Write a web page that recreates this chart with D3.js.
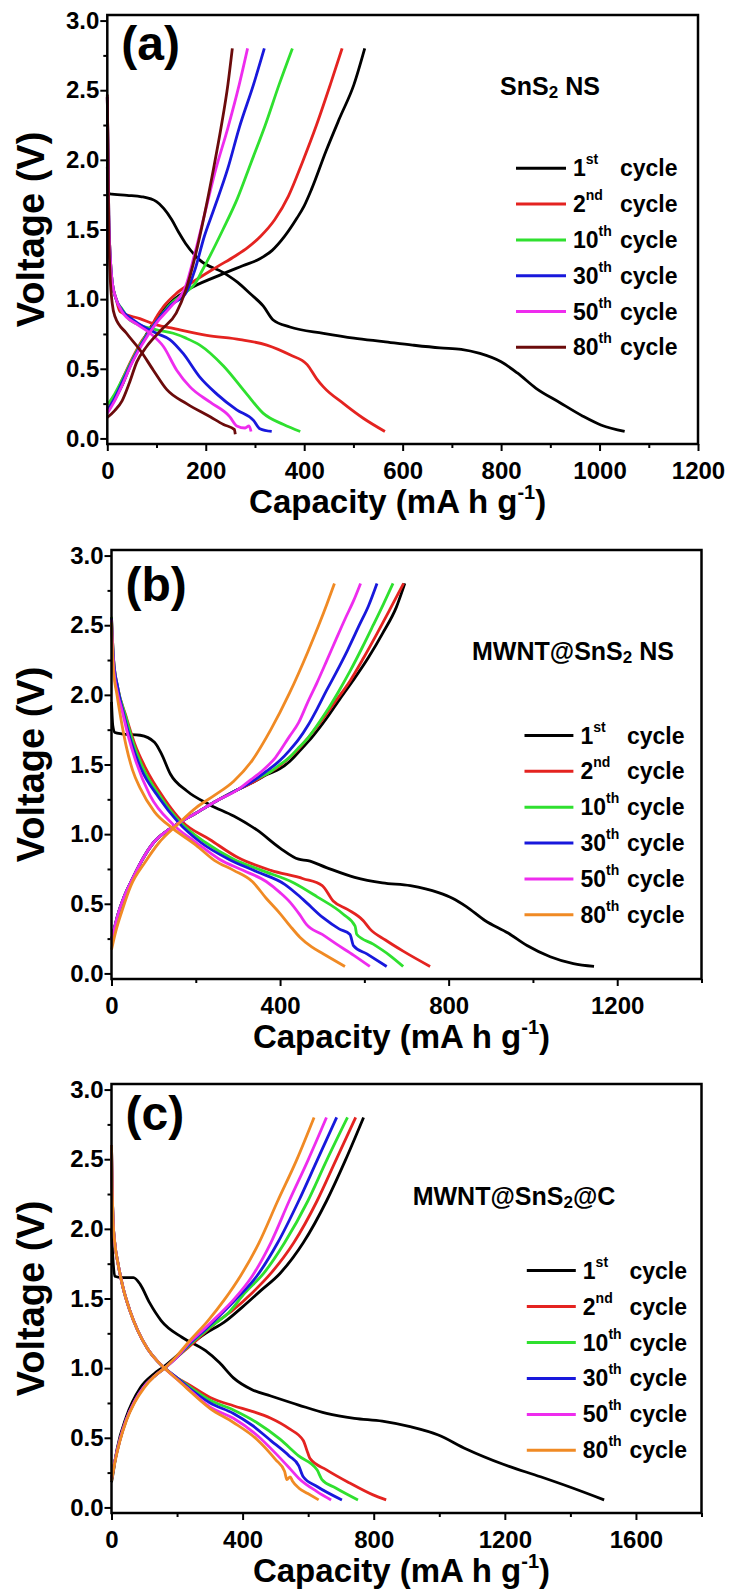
<!DOCTYPE html>
<html>
<head>
<meta charset="utf-8">
<script src="https://cdn.jsdelivr.net/npm/d3@7"></script>
<style>
  body { margin: 0; background: #fff; }
  text { font-family: "Liberation Sans", Arial, sans-serif; font-weight: bold; fill: #000; }
</style>
</head>
<body>
<div id="chart"></div>
<script>
// Legend entries (number + superscript)
const cycleLabels = [["1", "st"], ["2", "nd"], ["10", "th"], ["30", "th"], ["50", "th"], ["80", "th"]];

// ---- Panel (a) SnS2 NS : [capacity, voltage] ----
const aDischarge = [
  [[0,1.95],[2,1.78],[5,1.755],[40,1.745],[70,1.735],[100,1.70],[115,1.65],[131,1.57],[145,1.48],[159,1.40],[188,1.28],[236,1.19],[265,1.12],[290,1.04],[317,0.95],[337,0.85],[371,0.80],[439,0.755],[501,0.72],[561,0.695],[620,0.67],[676,0.65],[719,0.64],[757,0.61],[800,0.55],[833,0.47],[871,0.36],[918,0.26],[966,0.16],[1004,0.095],[1051,0.05]],
  [[0,2.45],[3,1.6],[6,1.3],[10,1.12],[18,1.0],[26,0.91],[66,0.86],[100,0.815],[134,0.79],[202,0.74],[270,0.71],[324,0.67],[371,0.60],[406,0.53],[425,0.43],[439,0.37],[480,0.25],[520,0.145],[564,0.05]],
  [[0,2.45],[3,1.6],[6,1.3],[10,1.12],[18,1.0],[30,0.93],[46,0.85],[100,0.78],[134,0.755],[160,0.72],[188,0.67],[236,0.52],[283,0.32],[317,0.18],[358,0.10],[392,0.05]],
  [[0,2.45],[3,1.6],[6,1.3],[10,1.12],[18,1.0],[30,0.92],[53,0.85],[100,0.755],[127,0.71],[154,0.61],[188,0.44],[222,0.32],[263,0.205],[297,0.13],[310,0.07],[334,0.05]],
  [[0,2.45],[3,1.6],[6,1.3],[10,1.12],[18,1.0],[30,0.91],[60,0.82],[87,0.755],[114,0.66],[141,0.49],[168,0.37],[209,0.26],[249,0.155],[263,0.09],[280,0.075],[288,0.09],[292,0.05]],
  [[0,2.47],[3,1.5],[6,1.15],[10,0.97],[15.6,0.875],[39,0.755],[66.5,0.635],[93.5,0.49],[121,0.35],[161,0.25],[209,0.155],[236,0.10],[258,0.065],[260,0.03]]
];
const aCharge = [
  [[0,0.2],[15,0.28],[30,0.38],[50,0.55],[75,0.72],[100,0.86],[130,0.98],[165,1.07],[220,1.16],[275,1.24],[310,1.29],[335,1.35],[360,1.45],[385,1.58],[400,1.67],[415,1.79],[444,2.06],[472,2.30],[501,2.54],[523,2.80]],
  [[0,0.2],[15,0.3],[30,0.42],[50,0.57],[70,0.7],[90,0.8],[95,0.84],[115,0.95],[140,1.04],[168,1.11],[222,1.23],[260,1.31],[285,1.37],[311,1.45],[340,1.57],[368,1.74],[396,1.98],[425,2.25],[453,2.54],[477,2.80]],
  [[0,0.24],[15,0.32],[30,0.42],[50,0.56],[70,0.69],[100,0.84],[130,0.97],[160,1.05],[178,1.11],[192,1.2],[207,1.30],[235,1.50],[264,1.72],[292,1.98],[321,2.25],[349,2.54],[376,2.80]],
  [[0,0.2],[15,0.29],[30,0.4],[50,0.55],[70,0.68],[100,0.84],[130,0.96],[159,1.04],[178,1.21],[197,1.45],[216,1.64],[245,1.94],[268,2.23],[297,2.54],[319,2.80]],
  [[0,0.18],[15,0.27],[30,0.38],[50,0.54],[70,0.67],[100,0.83],[130,0.95],[159,1.09],[178,1.33],[197,1.60],[221,1.94],[245,2.23],[268,2.54],[285,2.80]],
  [[0,0.15],[15,0.2],[30,0.27],[45,0.4],[60,0.55],[80,0.66],[110,0.78],[140,0.9],[159,1.06],[178,1.30],[197,1.60],[216,1.94],[231,2.23],[245,2.54],[254,2.80]]
];

// ---- Panel (b) MWNT@SnS2 NS ----
const bDischarge = [
  [[0,1.95],[3,1.78],[8,1.73],[24,1.72],[68,1.71],[102,1.66],[118,1.58],[140,1.43],[179,1.31],[234,1.21],[290,1.13],[345,1.03],[400,0.90],[444,0.82],[466,0.81],[510,0.76],[577,0.69],[643,0.65],[709,0.63],[776,0.58],[809,0.54],[842,0.48],[886,0.38],[941,0.29],[986,0.20],[1041,0.12],[1096,0.07],[1145,0.05]],
  [[0,2.56],[5,2.25],[15,2.05],[34,1.85],[55,1.65],[80,1.48],[124,1.26],[168,1.09],[234,0.96],[301,0.83],[378,0.74],[455,0.68],[500,0.63],[526,0.52],[560,0.46],[597,0.38],[613,0.32],[650,0.24],[692,0.16],[756,0.05]],
  [[0,2.56],[5,2.25],[15,2.05],[33,1.85],[52,1.65],[74,1.48],[118,1.26],[162,1.09],[223,0.94],[290,0.82],[356,0.74],[433,0.65],[488,0.55],[550,0.425],[578,0.34],[582,0.28],[621,0.21],[660,0.13],[692,0.05]],
  [[0,2.55],[5,2.25],[15,2.05],[30,1.85],[48,1.65],[68.5,1.48],[113,1.26],[157,1.09],[212,0.94],[278,0.82],[345,0.73],[411,0.64],[455,0.53],[502,0.40],[540,0.32],[566,0.28],[574,0.20],[606,0.14],[653,0.05]],
  [[0,2.54],[5,2.2],[15,2.0],[24,1.9],[40,1.7],[57,1.53],[91,1.28],[146,1.07],[201,0.94],[256,0.82],[312,0.74],[367,0.66],[400,0.58],[424,0.51],[447,0.42],[463,0.35],[500,0.28],[534,0.21],[575,0.13],[613,0.05]],
  [[0,2.52],[4,2.2],[13,2.0],[24,1.8],[35,1.63],[50,1.46],[68,1.33],[102,1.16],[146,1.04],[201,0.92],[245,0.81],[290,0.74],[334,0.66],[367,0.54],[400,0.43],[424,0.34],[447,0.26],[475,0.19],[503,0.14],[554,0.05]]
];
const bCharge = [
  [[0,0.24],[5,0.3],[15,0.42],[30,0.55],[50,0.68],[70,0.80],[100,0.94],[130,1.02],[160,1.08],[200,1.15],[250,1.24],[300,1.32],[340,1.38],[370,1.43],[400,1.47],[422,1.52],[450,1.61],[477,1.70],[510,1.83],[544,1.98],[577,2.12],[610,2.27],[643,2.44],[676,2.63],[696,2.80]],
  [[0,0.24],[5,0.3],[15,0.42],[30,0.55],[50,0.68],[70,0.80],[100,0.94],[130,1.02],[160,1.08],[200,1.15],[250,1.24],[300,1.32],[340,1.38],[367,1.43],[390,1.47],[411,1.52],[440,1.60],[466,1.69],[500,1.82],[533,1.96],[566,2.10],[599,2.27],[630,2.44],[660,2.61],[693,2.80]],
  [[0,0.245],[5,0.3],[15,0.42],[30,0.55],[50,0.68],[70,0.80],[100,0.94],[130,1.02],[160,1.08],[200,1.15],[250,1.24],[300,1.32],[340,1.39],[378,1.45],[400,1.50],[422,1.55],[444,1.62],[466,1.69],[490,1.79],[510,1.88],[540,2.03],[566,2.17],[595,2.34],[621,2.50],[645,2.65],[668,2.80]],
  [[0,0.245],[5,0.3],[15,0.42],[30,0.55],[50,0.68],[70,0.80],[100,0.94],[130,1.02],[160,1.08],[200,1.15],[250,1.24],[300,1.32],[340,1.39],[367,1.45],[400,1.53],[422,1.60],[444,1.68],[466,1.78],[488,1.90],[510,2.03],[533,2.16],[560,2.32],[588,2.50],[610,2.64],[630,2.80]],
  [[0,0.24],[5,0.3],[15,0.42],[30,0.55],[50,0.68],[70,0.80],[100,0.94],[130,1.02],[160,1.08],[200,1.15],[250,1.24],[300,1.32],[330,1.39],[356,1.45],[389,1.55],[422,1.70],[444,1.80],[466,1.95],[488,2.09],[510,2.24],[533,2.40],[555,2.55],[575,2.68],[591,2.80]],
  [[0,0.17],[10,0.3],[25,0.45],[46,0.63],[80,0.80],[113,0.94],[157,1.07],[201,1.19],[245,1.28],[290,1.38],[334,1.53],[378,1.75],[422,2.01],[466,2.31],[511,2.65],[529,2.80]]
];

// ---- Panel (c) MWNT@SnS2@C ----
const cDischarge = [
  [[0,2.0],[4,1.8],[10,1.66],[31,1.65],[67,1.65],[88,1.60],[116,1.47],[152,1.34],[216,1.22],[287,1.125],[329,1.04],[372,0.93],[429,0.845],[486,0.80],[571,0.735],[656,0.675],[741,0.64],[826,0.62],[911,0.58],[997,0.52],[1082,0.42],[1195,0.31],[1309,0.22],[1394,0.15],[1503,0.054]],
  [[0,2.6],[2,2.3],[5,2.05],[10,1.9],[20,1.75],[35,1.58],[55,1.42],[80,1.27],[110,1.14],[140,1.05],[162,1.0],[200,0.93],[230,0.89],[301,0.79],[372,0.73],[429,0.69],[486,0.64],[542,0.565],[585,0.48],[599,0.39],[606,0.35],[656,0.27],[727,0.175],[798,0.09],[838,0.054]],
  [[0,2.6],[2,2.3],[5,2.05],[10,1.9],[20,1.75],[35,1.58],[55,1.42],[80,1.27],[110,1.14],[140,1.05],[162,1.0],[200,0.93],[230,0.88],[301,0.77],[372,0.70],[443,0.61],[514,0.49],[571,0.37],[627,0.27],[642,0.20],[684,0.14],[752,0.054]],
  [[0,2.6],[2,2.3],[5,2.05],[10,1.9],[20,1.75],[35,1.58],[55,1.42],[80,1.27],[110,1.14],[140,1.05],[162,1.0],[200,0.93],[230,0.87],[301,0.75],[372,0.675],[429,0.59],[486,0.48],[542,0.37],[571,0.30],[585,0.22],[627,0.15],[703,0.054]],
  [[0,2.6],[2,2.3],[5,2.05],[10,1.9],[20,1.75],[35,1.58],[55,1.42],[80,1.27],[110,1.14],[140,1.05],[162,1.0],[200,0.92],[230,0.86],[301,0.72],[372,0.64],[443,0.52],[500,0.39],[542,0.285],[571,0.21],[627,0.114],[670,0.054]],
  [[0,2.6],[2,2.3],[5,2.05],[10,1.9],[20,1.75],[35,1.58],[55,1.42],[80,1.27],[110,1.14],[140,1.05],[162,1.0],[200,0.92],[230,0.855],[301,0.71],[372,0.61],[443,0.49],[500,0.345],[528,0.26],[535,0.20],[545,0.22],[552,0.19],[571,0.14],[599,0.10],[632,0.054]]
];
const cCharge = [
  [[0,0.18],[3,0.22],[17,0.42],[45,0.65],[88,0.86],[130,0.96],[159,1.01],[230,1.15],[287,1.25],[344,1.33],[400,1.44],[457,1.56],[514,1.68],[585,1.90],[656,2.20],[713,2.49],[769,2.80]],
  [[0,0.2],[10,0.33],[25,0.48],[45,0.63],[70,0.76],[100,0.87],[130,0.94],[162,1.0],[200,1.08],[250,1.18],[315,1.32],[372,1.42],[429,1.54],[486,1.68],[556,1.90],[627,2.20],[684,2.49],[745,2.80]],
  [[0,0.2],[10,0.33],[25,0.48],[45,0.63],[70,0.76],[100,0.87],[130,0.94],[162,1.0],[200,1.08],[244,1.18],[301,1.295],[358,1.40],[407,1.54],[464,1.68],[528,1.90],[599,2.20],[656,2.49],[720,2.80]],
  [[0,0.2],[10,0.33],[25,0.48],[45,0.63],[70,0.76],[100,0.87],[130,0.94],[162,1.0],[200,1.08],[240,1.18],[287,1.28],[336,1.39],[386,1.51],[443,1.66],[507,1.90],[571,2.20],[627,2.49],[687,2.80]],
  [[0,0.2],[10,0.33],[25,0.48],[45,0.63],[70,0.76],[100,0.87],[130,0.94],[162,1.0],[200,1.08],[240,1.19],[273,1.26],[322,1.37],[372,1.49],[429,1.66],[486,1.90],[542,2.20],[599,2.49],[656,2.80]],
  [[0,0.19],[10,0.32],[25,0.47],[45,0.62],[70,0.75],[100,0.86],[130,0.94],[162,1.0],[200,1.09],[240,1.20],[294,1.34],[344,1.49],[393,1.66],[450,1.90],[507,2.20],[564,2.49],[618,2.80]]
];

const colorsA = ["#000000", "#e42320", "#2fe02f", "#1818dc", "#ee2cee", "#6b0b0b"];
const colorsBC = ["#000000", "#e42320", "#2fe02f", "#1818dc", "#ee2cee", "#f08a24"];

const yTicks = [0, 0.5, 1.0, 1.5, 2.0, 2.5, 3.0];

const panels = [
  {tag: "(a)", sample: ["SnS", "2", " NS"], discharge: aDischarge, charge: aCharge, colors: colorsA,
   left: 107.3, right: 698, top: 15, bottom: 444, xMax: 1200, xMajor: 200, xMinor: 100, xLabels: [0, 200, 400, 600, 800, 1000, 1200],
   tagBase: 60, sampleX: 550, sampleY: 95,
   leg: {x1: 516, x2: 566, num: 573, cyc: 620, y0: 168.3, dy: 35.8}},
  {tag: "(b)", sample: ["MWNT@SnS", "2", " NS"], discharge: bDischarge, charge: bCharge, colors: colorsBC,
   left: 111.5, right: 701.5, top: 550, bottom: 979, xMax: 1400, xMajor: 400, xMinor: 200, xLabels: [0, 400, 800, 1200],
   tagBase: 601, sampleX: 573, sampleY: 660,
   leg: {x1: 524.5, x2: 573.4, num: 580.4, cyc: 627, y0: 735.5, dy: 35.85}},
  {tag: "(c)", sample: ["MWNT@SnS", "2", "@C"], discharge: cDischarge, charge: cCharge, colors: colorsBC,
   left: 111.5, right: 701.5, top: 1084, bottom: 1513, xMax: 1800, xMajor: 400, xMinor: 200, xLabels: [0, 400, 800, 1200, 1600],
   tagBase: 1130, sampleX: 514, sampleY: 1205,
   leg: {x1: 526.8, x2: 575.8, num: 582.8, cyc: 629.4, y0: 1270.6, dy: 35.95}}
];

const svg = d3.select("#chart").append("svg")
  .attr("width", 731)
  .attr("height", 1591)
  .style("background", "#fff");

panels.forEach(p => {
  const g = svg.append("g");
  const x = d3.scaleLinear().domain([0, p.xMax]).range([p.left, p.right]);
  const y = d3.scaleLinear().domain([-0.04, 3.04]).range([p.bottom, p.top]);

  // minor ticks
  g.append("g")
    .attr("transform", `translate(0,${p.bottom})`)
    .call(d3.axisBottom(x).tickValues(d3.range(p.xMinor, p.xMax + 1, p.xMajor)).tickSize(4).tickFormat(""))
    .call(a => a.select(".domain").remove())
    .call(a => a.selectAll("line").attr("stroke-width", 2));
  g.append("g")
    .attr("transform", `translate(${p.left},0)`)
    .call(d3.axisLeft(y).tickValues([0.25, 0.75, 1.25, 1.75, 2.25, 2.75]).tickSize(4).tickFormat(""))
    .call(a => a.select(".domain").remove())
    .call(a => a.selectAll("line").attr("stroke-width", 2));

  // major ticks + labels
  g.append("g")
    .attr("transform", `translate(0,${p.bottom})`)
    .call(d3.axisBottom(x).tickValues(p.xLabels).tickSize(7).tickPadding(11).tickFormat(d3.format("d")))
    .call(a => a.select(".domain").remove())
    .call(a => a.selectAll("line").attr("stroke-width", 2))
    .call(a => a.selectAll("text").attr("font-size", 24).attr("font-family", null));
  g.append("g")
    .attr("transform", `translate(${p.left},0)`)
    .call(d3.axisLeft(y).tickValues(yTicks).tickSize(7).tickPadding(1).tickFormat(d3.format(".1f")))
    .call(a => a.select(".domain").remove())
    .call(a => a.selectAll("line").attr("stroke-width", 2))
    .call(a => a.selectAll("text").attr("font-size", 24).attr("font-family", null));

  // curves
  const line = d3.line()
    .x(d => x(d[0]))
    .y(d => y(d[1]))
    .curve(d3.curveMonotoneX);

  p.discharge.forEach((pts, i) => {
    g.append("path").datum(pts)
      .attr("fill", "none").attr("stroke", p.colors[i]).attr("stroke-width", 2.8)
      .attr("stroke-linejoin", "round").attr("d", line);
    g.append("path").datum(p.charge[i])
      .attr("fill", "none").attr("stroke", p.colors[i]).attr("stroke-width", 2.8)
      .attr("stroke-linejoin", "round").attr("d", line);
  });

  // frame
  g.append("rect")
    .attr("x", p.left).attr("y", p.top)
    .attr("width", p.right - p.left).attr("height", p.bottom - p.top)
    .attr("fill", "none").attr("stroke", "#000").attr("stroke-width", 2.5);

  // panel tag
  g.append("text").attr("x", p.left + 14).attr("y", p.tagBase)
    .attr("font-size", 48).text(p.tag);

  // sample name
  const s = g.append("text").attr("x", p.sampleX).attr("y", p.sampleY)
    .attr("text-anchor", "middle").attr("font-size", 25);
  s.append("tspan").text(p.sample[0]);
  s.append("tspan").attr("font-size", 17).attr("dy", 3).text(p.sample[1]);
  s.append("tspan").attr("dy", -3).text(p.sample[2]);

  // legend
  cycleLabels.forEach((c, i) => {
    const ly = p.leg.y0 + i * p.leg.dy;
    g.append("line")
      .attr("x1", p.leg.x1).attr("x2", p.leg.x2)
      .attr("y1", ly).attr("y2", ly)
      .attr("stroke", p.colors[i]).attr("stroke-width", 3);
    const t = g.append("text").attr("x", p.leg.num).attr("y", ly + 8).attr("font-size", 23);
    t.append("tspan").text(c[0]);
    t.append("tspan").attr("font-size", 14).attr("dy", -12).text(c[1]);
    g.append("text").attr("x", p.leg.cyc).attr("y", ly + 8).attr("font-size", 23).text("cycle");
  });

  // axis titles
  const xt = g.append("text")
    .attr("x", (p.left + p.right) / 2 - 5).attr("y", p.bottom + 69)
    .attr("text-anchor", "middle").attr("font-size", 33);
  xt.append("tspan").text("Capacity (mA h g");
  xt.append("tspan").attr("font-size", 20).attr("dy", -14).text("-1");
  xt.append("tspan").attr("dy", 14).text(")");

  g.append("text")
    .attr("transform", `translate(44,${(p.top + p.bottom) / 2}) rotate(-90)`)
    .attr("text-anchor", "middle").attr("font-size", 38)
    .text("Voltage (V)");
});
</script>
</body>
</html>
